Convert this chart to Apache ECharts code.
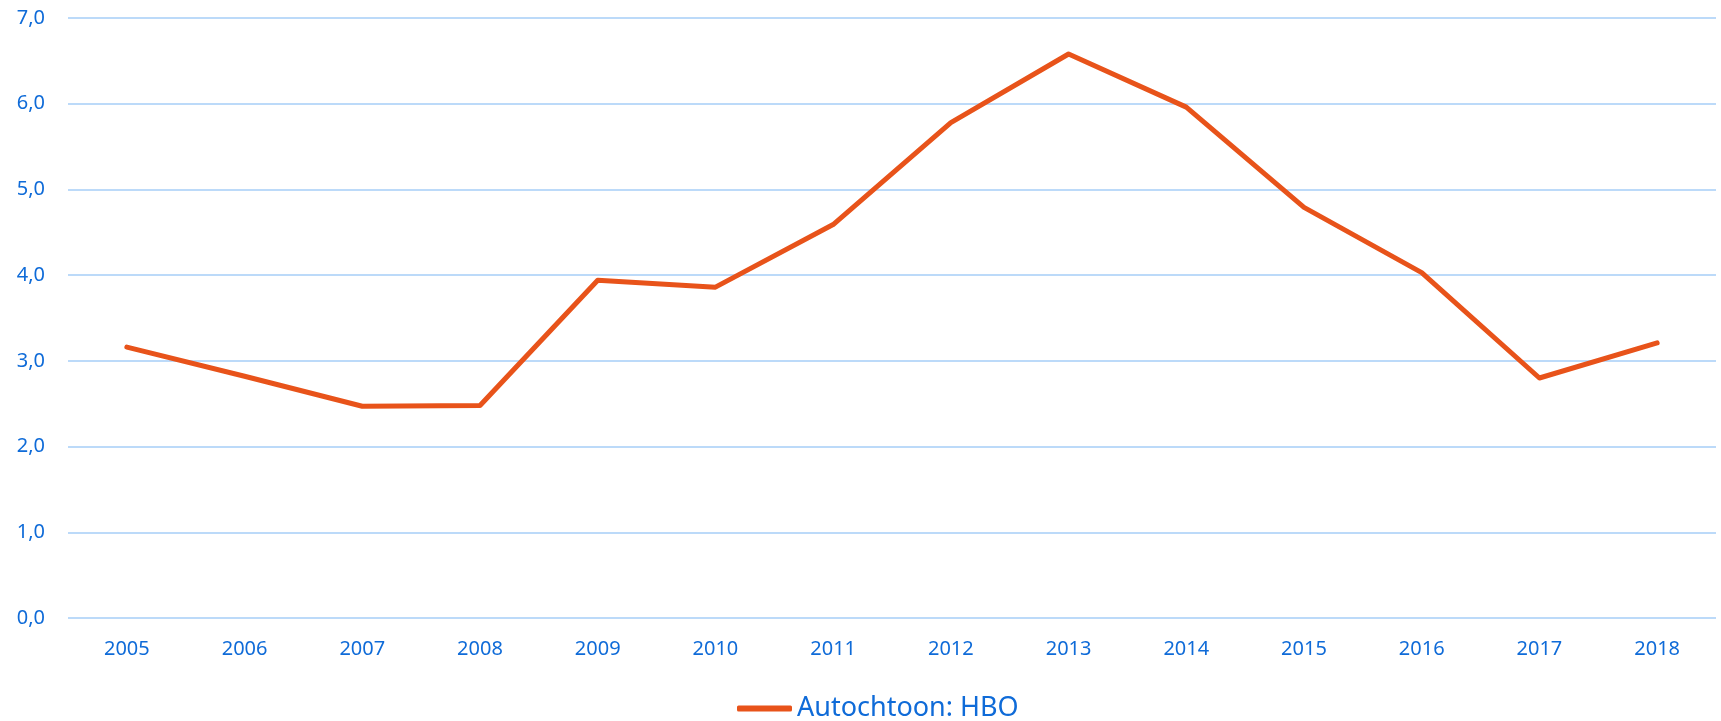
<!DOCTYPE html>
<html>
<head>
<meta charset="utf-8">
<script src="https://cdn.jsdelivr.net/npm/echarts@6/dist/echarts.min.js"></script>
<style>
  html, body { margin: 0; padding: 0; background: #fff; }
  #chart { width: 1721px; height: 721px; }
</style>
</head>
<body>
<div id="chart"></div>
<script>
// jaren en waarden
const years = ['2005', '2006', '2007', '2008', '2009', '2010', '2011', '2012', '2013', '2014', '2015', '2016', '2017', '2018']
const hboValues = [3.16, 2.82, 2.47, 2.48, 3.94, 3.86, 4.59, 5.78, 6.58, 5.96, 4.79, 4.03, 2.80, 3.21]
const seriesName = 'Autochtoon: HBO'

const textColor = '#0f6bd8'
const lineColor = '#e8531a'
const gridColor = '#bcdaf9'
const fontFamily = '"Noto Sans", "Open Sans", sans-serif'

const myChart = echarts.init(document.getElementById('chart'))

const option = {
  animation: false,
  grid: {
    left: 68,
    right: 5,
    top: 18,
    bottom: 103,
    containLabel: false,
    outerBoundsMode: 'none'
  },
  legend: {
    data: [{ name: seriesName, icon: 'roundRect' }],
    left: 732,
    top: 690,
    itemWidth: 55,
    itemHeight: 6,
    textStyle: {
      color: textColor,
      fontSize: 27,
      fontFamily: fontFamily
    }
  },
  xAxis: {
    type: 'category',
    data: years,
    boundaryGap: true,
    axisLine: { show: false },
    axisTick: { show: false },
    axisLabel: {
      color: textColor,
      fontSize: 20,
      fontFamily: fontFamily,
      margin: 21
    }
  },
  yAxis: {
    type: 'value',
    min: 0,
    max: 7,
    interval: 1,
    axisLine: { show: false },
    axisTick: { show: false },
    axisLabel: {
      color: textColor,
      fontSize: 20,
      fontFamily: fontFamily,
      margin: 23,
      formatter: (v) => v.toFixed(1).replace('.', ',')
    },
    splitLine: {
      lineStyle: { color: gridColor, width: 2 }
    }
  },
  series: [
    {
      name: seriesName,
      type: 'line',
      data: hboValues,
      symbol: 'none',
      color: lineColor,
      lineStyle: { color: lineColor, width: 5, cap: 'round', join: 'round' }
    }
  ]
}

myChart.setOption(option)
</script>
</body>
</html>
